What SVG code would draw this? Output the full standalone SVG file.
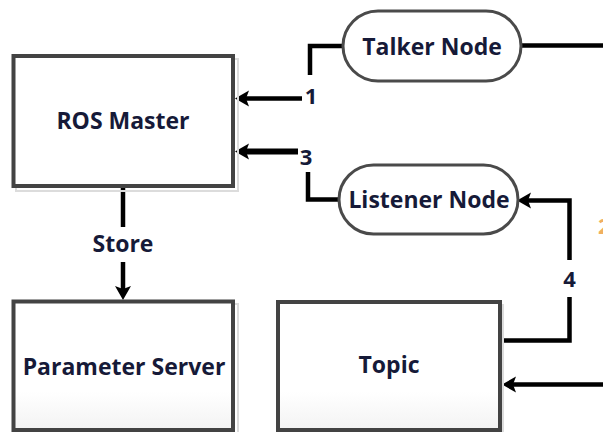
<svg xmlns="http://www.w3.org/2000/svg" width="603" height="432" viewBox="0 0 603 432">
  <defs>
    <style>
      .box { fill: #ffffff; stroke: #434343; stroke-width: 4; }
      .box.fade { fill: url(#boxFill); }
      .pill { fill: #ffffff; stroke: #4a4a4a; stroke-width: 3; }
      .shadow { fill: none; stroke: #dcdcdc; stroke-width: 2; }
      .label { font-family: "Open Sans", "Liberation Sans", sans-serif; font-weight: 700; font-size: 23px; fill: #161a38; text-anchor: middle; }
      .num { font-family: "Open Sans", "Liberation Sans", sans-serif; font-weight: 700; font-size: 22px; fill: #161a38; text-anchor: middle; }
      .wire { fill: none; stroke: #000000; stroke-width: 4.5; stroke-linejoin: miter; }
      .wire.heavy { stroke-width: 6; }
      .arrow { marker-end: url(#head); }
    </style>
    <linearGradient id="boxFill" x1="0" y1="0" x2="0" y2="1">
      <stop offset="0.7" stop-color="#ffffff"/>
      <stop offset="1" stop-color="#f3f3f3"/>
    </linearGradient>
    <marker id="head" markerUnits="userSpaceOnUse" viewBox="-6 -9 18 18" refX="0" refY="0" markerWidth="18" markerHeight="18" orient="auto">
      <path d="M11 0 L-3 -8 L0 0 L-3 8 Z" fill="#000000"/>
    </marker>
  </defs>

  <rect width="603" height="432" fill="#ffffff"/>

  <!-- connectors -->
  <g id="connectors">
    <!-- 1: Talker Node registers with ROS Master -->
    <path class="wire" d="M343 46 H310 V75"/>
    <path class="wire arrow" d="M302 98.5 H246"/>
    <!-- 3: Listener Node subscribes via ROS Master -->
    <path class="wire arrow heavy" d="M298 151.5 H246"/>
    <path class="wire" d="M308 172 V199.5 H340"/>
    <!-- Talker Node publishes outward -->
    <path class="wire" d="M521 45.5 H603"/>
    <!-- 4: Topic delivers to Listener Node -->
    <path class="wire" d="M502 340.5 H569.5 V297"/>
    <path class="wire arrow" d="M569.5 260 V200.5 H528"/>
    <!-- incoming message to Topic -->
    <path class="wire arrow" d="M603 384.5 H513"/>
    <!-- Store: ROS Master to Parameter Server -->
    <path class="wire" d="M123 188 V227"/>
    <path class="wire arrow" d="M123 262 V289"/>

    <text class="num" x="311" y="104">1</text>
    <text class="num" x="306" y="165">3</text>
    <text class="num" x="569.5" y="287">4</text>
    <text class="num" x="598" y="234" style="text-anchor:start; fill:#f0b060">2</text>
    <text class="label" x="123" y="252">Store</text>
  </g>

  <!-- ROS Master -->
  <g id="ros-master">
    <rect class="shadow" x="16" y="59" width="222" height="132"/>
    <rect class="box" x="13.5" y="56" width="219.5" height="130"/>
    <text class="label" x="123" y="129">ROS Master</text>
  </g>

  <!-- Talker Node -->
  <g id="talker-node">
    <rect class="pill" x="343" y="11" width="178" height="70" rx="35" ry="35"/>
    <text class="label" x="432" y="55">Talker Node</text>
  </g>

  <!-- Listener Node -->
  <g id="listener-node">
    <rect class="pill" x="339" y="165" width="179" height="69" rx="34.5" ry="34.5"/>
    <text class="label" x="429" y="208">Listener Node</text>
  </g>

  <!-- Parameter Server -->
  <g id="parameter-server">
    <rect class="shadow" x="16" y="304" width="222" height="130"/>
    <rect class="box fade" x="13.5" y="301.5" width="219.5" height="128.5"/>
    <text class="label" x="124" y="375">Parameter Server</text>
  </g>

  <!-- Topic -->
  <g id="topic">
    <rect class="shadow" x="281" y="305" width="222" height="130"/>
    <rect class="box fade" x="278" y="302" width="222" height="128"/>
    <text class="label" x="389" y="373">Topic</text>
  </g>
</svg>
